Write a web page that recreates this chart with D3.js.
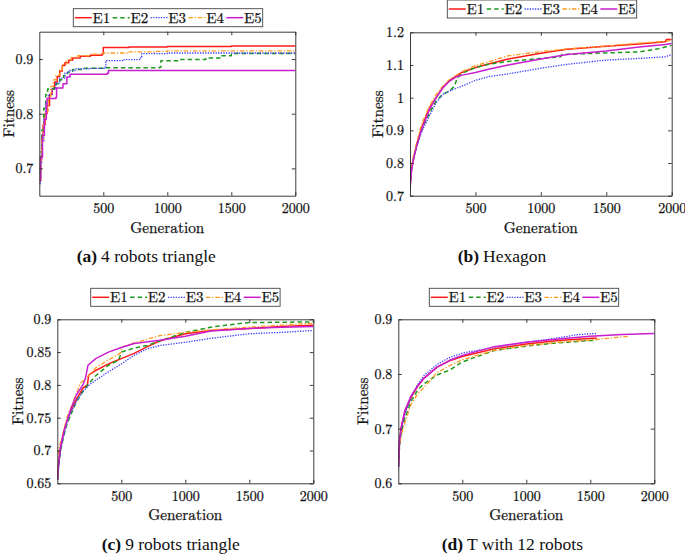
<!DOCTYPE html>
<html><head><meta charset="utf-8">
<script src="https://cdn.jsdelivr.net/npm/d3@7"></script>
<style>
html,body{margin:0;padding:0;background:#fff;}
</style></head>
<body><svg id="chart" width="685" height="557"></svg>
<script>
// ---------- data ----------
const seriesNames = ["E1","E2","E3","E4","E5"];
const xTicks = [500,1000,1500,2000];
const aYTicks = [0.7,0.8,0.9];
const bYTicks = [0.7,0.8,0.9,1,1.1,1.2];
const cYTicks = [0.65,0.7,0.75,0.8,0.85,0.9];
const dYTicks = [0.6,0.7,0.8,0.9];

// (a) 4 robots triangle  [generation, fitness]
const aE1 = [[1,0.678],[10,0.72],[20,0.76],[30,0.78],[45,0.80],[60,0.815],[80,0.835],[100,0.845],[120,0.858],[140,0.868],[160,0.878],[180,0.888],[200,0.893],[230,0.898],[260,0.902],[320,0.905],[400,0.907],[490,0.909],[500,0.921],[700,0.922],[1000,0.923],[1500,0.924],[2000,0.925]];
const aE2 = [[1,0.69],[10,0.73],[20,0.77],[35,0.81],[50,0.835],[65,0.845],[110,0.847],[130,0.855],[160,0.862],[190,0.87],[220,0.876],[260,0.881],[350,0.883],[500,0.884],[940,0.885],[950,0.897],[1100,0.899],[1300,0.902],[1420,0.906],[1500,0.910],[2000,0.911]];
const aE3 = [[1,0.672],[10,0.71],[20,0.75],[35,0.79],[50,0.82],[70,0.835],[100,0.845],[130,0.856],[160,0.865],[200,0.874],[230,0.879],[280,0.882],[400,0.883],[515,0.885],[520,0.897],[650,0.899],[790,0.902],[800,0.910],[1000,0.911],[2000,0.912]];
const aE4 = [[1,0.68],[10,0.715],[20,0.75],[35,0.785],[50,0.805],[70,0.828],[90,0.85],[110,0.862],[130,0.87],[160,0.88],[180,0.89],[210,0.898],[250,0.903],[300,0.906],[400,0.909],[500,0.911],[700,0.913],[900,0.914],[1000,0.915],[2000,0.916]];
const aE5 = [[1,0.68],[10,0.72],[25,0.76],[40,0.79],[55,0.815],[60,0.828],[130,0.83],[135,0.847],[185,0.855],[215,0.867],[240,0.872],[530,0.874],[540,0.879],[2000,0.879]];

// (b) Hexagon
const bE1 = [[1,0.73],[10,0.78],[25,0.81],[50,0.855],[75,0.89],[100,0.92],[150,0.97],[200,1.0],[250,1.03],[300,1.052],[350,1.065],[400,1.078],[500,1.092],[600,1.103],[750,1.118],[1000,1.136],[1200,1.148],[1500,1.157],[1750,1.164],[1950,1.171],[1960,1.178],[2000,1.178]];
const bE2 = [[1,0.74],[10,0.79],[25,0.81],[50,0.85],[75,0.885],[100,0.91],[150,0.955],[200,0.99],[250,1.01],[300,1.02],[340,1.035],[360,1.06],[400,1.075],[500,1.092],[600,1.102],[750,1.111],[1000,1.12],[1150,1.125],[1160,1.132],[1500,1.137],[1750,1.14],[1900,1.15],[2000,1.16]];
const bE3 = [[1,0.73],[10,0.77],[25,0.81],[50,0.85],[75,0.88],[100,0.905],[150,0.945],[200,0.985],[250,1.01],[300,1.02],[350,1.028],[400,1.036],[500,1.053],[600,1.064],[750,1.073],[1000,1.09],[1200,1.102],[1500,1.115],[1750,1.12],[1950,1.125],[2000,1.132]];
const bE4 = [[1,0.73],[10,0.79],[25,0.82],[50,0.86],[75,0.9],[100,0.93],[150,0.975],[200,1.01],[250,1.035],[300,1.055],[350,1.068],[400,1.08],[500,1.098],[600,1.11],[750,1.128],[1000,1.141],[1200,1.149],[1500,1.158],[1750,1.167],[1950,1.172],[2000,1.176]];
const bE5 = [[1,0.725],[10,0.77],[25,0.81],[50,0.85],[75,0.885],[100,0.915],[150,0.965],[200,1.0],[250,1.03],[300,1.05],[350,1.063],[400,1.069],[500,1.077],[600,1.087],[750,1.1],[1000,1.118],[1200,1.132],[1500,1.143],[1750,1.155],[1950,1.163],[2000,1.166]];

// (c) 9 robots triangle
const cE1 = [[1,0.655],[10,0.68],[25,0.705],[50,0.728],[75,0.745],[100,0.758],[150,0.778],[200,0.795],[235,0.80],[245,0.815],[300,0.822],[400,0.832],[450,0.836],[500,0.84],[600,0.848],[700,0.858],[800,0.867],[1000,0.878],[1200,0.883],[1500,0.886],[1750,0.889],[2000,0.891]];
const cE2 = [[1,0.655],[10,0.675],[25,0.70],[50,0.722],[75,0.74],[100,0.752],[150,0.775],[200,0.79],[250,0.803],[300,0.814],[400,0.83],[480,0.838],[500,0.85],[600,0.856],[700,0.86],[800,0.867],[1000,0.88],[1200,0.888],[1400,0.893],[1500,0.895],[2000,0.896]];
const cE3 = [[1,0.655],[10,0.675],[25,0.70],[50,0.723],[75,0.742],[100,0.755],[150,0.775],[200,0.79],[250,0.80],[300,0.807],[400,0.82],[500,0.832],[600,0.845],[700,0.855],[800,0.86],[1000,0.865],[1200,0.871],[1500,0.878],[1750,0.88],[2000,0.883]];
const cE4 = [[1,0.665],[10,0.70],[25,0.713],[50,0.73],[75,0.75],[100,0.763],[150,0.787],[180,0.803],[200,0.806],[250,0.815],[300,0.826],[400,0.838],[490,0.848],[510,0.858],[600,0.864],[800,0.875],[1000,0.88],[1200,0.884],[1500,0.888],[1750,0.891],[2000,0.894]];
const cE5 = [[1,0.655],[10,0.68],[25,0.705],[50,0.728],[75,0.745],[100,0.76],[150,0.785],[200,0.80],[220,0.81],[240,0.83],[300,0.84],[400,0.85],[500,0.857],[600,0.863],[800,0.868],[1000,0.874],[1200,0.882],[1500,0.886],[1750,0.888],[2000,0.889]];

// (d) T with 12 robots
const dE1 = [[1,0.63],[10,0.68],[25,0.705],[50,0.73],[100,0.757],[150,0.777],[200,0.792],[300,0.812],[400,0.824],[500,0.832],[750,0.846],[1000,0.855],[1250,0.861],[1550,0.866]];
const dE2 = [[1,0.63],[10,0.67],[25,0.695],[50,0.718],[100,0.75],[150,0.77],[200,0.782],[300,0.798],[400,0.807],[500,0.822],[750,0.843],[1000,0.851],[1250,0.857],[1550,0.862]];
const dE3 = [[1,0.625],[10,0.67],[25,0.70],[50,0.725],[100,0.758],[150,0.78],[200,0.797],[300,0.817],[400,0.83],[500,0.838],[750,0.849],[1000,0.858],[1250,0.866],[1400,0.872],[1550,0.874]];
const dE4 = [[1,0.64],[10,0.67],[25,0.69],[50,0.71],[100,0.745],[150,0.763],[200,0.775],[300,0.802],[400,0.815],[500,0.826],[750,0.843],[1000,0.852],[1250,0.858],[1500,0.862],[1800,0.869]];
const dE5 = [[1,0.63],[10,0.68],[25,0.705],[50,0.732],[100,0.76],[150,0.778],[200,0.792],[300,0.812],[400,0.825],[500,0.834],[750,0.85],[1000,0.858],[1250,0.864],[1500,0.869],[1750,0.872],[2000,0.874]];

// ---------- styles ----------
const FONT = "'Latin Modern Roman','Liberation Serif',serif";
const CAPFONT = "'Liberation Serif','Times New Roman',serif";
const lineStyles = [
  {color:"#ff1a1a", dash:null, w:1.5},
  {color:"#1f9a1f", dash:"4.5,3", w:1.5},
  {color:"#3b3bff", dash:"1.3,1.3", w:1.3},
  {color:"#ff9a1f", dash:"4.5,1.8,1.3,1.8", w:1.3},
  {color:"#c81ecf", dash:null, w:1.5}
];

const panels = [
  {key:"a", L:39.3, R:295.3, T:31.7, B:195.7, yDom:[0.65,0.95], yTicks:aYTicks, data:[aE1,aE2,aE3,aE4,aE5],
   leg:{x:73.3,y:8.7}, ylabX:13.5, cap:{x:76.7,y:261.5,b:"(a)",t:"4 robots triangle"}},
  {key:"b", L:410, R:671.7, T:32.3, B:195.7, yDom:[0.7,1.2], yTicks:bYTicks, data:[bE1,bE2,bE3,bE4,bE5],
   leg:{x:447.3,y:0}, ylabX:383.3, cap:{x:457.7,y:261.5,b:"(b)",t:"Hexagon"}},
  {key:"c", L:57.3, R:313.3, T:319.3, B:483.3, yDom:[0.65,0.9], yTicks:cYTicks, data:[cE1,cE2,cE3,cE4,cE5],
   leg:{x:90.7,y:288.3}, ylabX:23.3, cap:{x:101.7,y:550,b:"(c)",t:"9 robots triangle"}},
  {key:"d", L:398.3, R:654.3, T:319.3, B:483.3, yDom:[0.6,0.9], yTicks:dYTicks, data:[dE1,dE2,dE3,dE4,dE5],
   leg:{x:429.3,y:288.3}, ylabX:368.3, cap:{x:441.7,y:550,b:"(d)",t:"T with 12 robots"}}
];

const svg = d3.select("#chart");
const axisColor = "#262626";

panels.forEach(p => {
  const x = d3.scaleLinear().domain([0,2000]).range([p.L,p.R]);
  const y = d3.scaleLinear().domain(p.yDom).range([p.B,p.T]);
  const g = svg.append("g").attr("font-family",FONT);

  g.append("clipPath").attr("id","clip"+p.key)
    .append("rect").attr("x",p.L).attr("y",p.T).attr("width",p.R-p.L).attr("height",p.B-p.T);

  const line = d3.line().x(d=>x(d[0])).y(d=>y(d[1]))
     .curve(p.key==="a" ? d3.curveStepAfter : d3.curveLinear);
  const lg = g.append("g").attr("clip-path","url(#clip"+p.key+")");
  p.data.forEach((s,i) => {
    const st = lineStyles[i];
    lg.append("path").datum(s).attr("d",line)
      .attr("fill","none").attr("stroke",st.color).attr("stroke-width",st.w)
      .attr("stroke-dasharray",st.dash).attr("stroke-linejoin","round");
  });

  // axes
  const fs = 14;
  const xb = g.append("g").attr("transform",`translate(0,${p.B})`)
    .call(d3.axisBottom(x).tickValues(xTicks).tickFormat(d3.format("d")).tickSizeInner(-3.5).tickSizeOuter(0).tickPadding(7.5));
  const yl = g.append("g").attr("transform",`translate(${p.L},0)`)
    .call(d3.axisLeft(y).tickValues(p.yTicks).tickSizeInner(-3.5).tickSizeOuter(0).tickPadding(6).tickFormat(d=>String(d)));
  const xt = g.append("g").attr("transform",`translate(0,${p.T})`)
    .call(d3.axisTop(x).tickValues(xTicks).tickSizeInner(-3.5).tickSizeOuter(0).tickFormat(""));
  const yr = g.append("g").attr("transform",`translate(${p.R},0)`)
    .call(d3.axisRight(y).tickValues(p.yTicks).tickSizeInner(-3.5).tickSizeOuter(0).tickFormat(""));
  [xb,yl,xt,yr].forEach(a => {
    a.attr("font-family",FONT).attr("font-size",fs);
    a.selectAll("path.domain").attr("stroke",axisColor).attr("stroke-width",0.9);
    a.selectAll(".tick line").attr("stroke",axisColor).attr("stroke-width",0.9);
    a.selectAll("text").attr("fill","#111").attr("stroke","#111").attr("stroke-width",0.25);
  });

  // axis labels
  g.append("text").attr("x",(p.L+p.R)/2).attr("y",p.B+37).attr("text-anchor","middle")
    .attr("font-size",15.3).attr("fill","#111").attr("stroke","#111").attr("stroke-width",0.25).text("Generation");
  g.append("text").attr("transform",`translate(${p.ylabX},${(p.T+p.B)/2}) rotate(-90)`)
    .attr("text-anchor","middle").attr("font-size",15.3).attr("fill","#111").attr("stroke","#111").attr("stroke-width",0.25).text("Fitness");

  // legend
  const lw = 189.4, lh = 18, step = lw/5;
  const leg = g.append("g").attr("transform",`translate(${p.leg.x},${p.leg.y})`);
  leg.append("rect").attr("width",lw).attr("height",lh).attr("fill","#fff")
    .attr("stroke","#444").attr("stroke-width",0.9);
  seriesNames.forEach((n,i) => {
    const st = lineStyles[i];
    const x0 = i*step;
    leg.append("line").attr("x1",x0+1.5).attr("x2",x0+18.5).attr("y1",lh/2).attr("y2",lh/2)
      .attr("stroke",st.color).attr("stroke-width",st.w).attr("stroke-dasharray",st.dash);
    leg.append("text").attr("x",x0+19.3).attr("y",lh/2+5).attr("font-size",15).attr("fill","#111")
      .attr("stroke","#111").attr("stroke-width",0.25).text(n);
  });

  // caption
  const cap = g.append("text").attr("x",p.cap.x).attr("y",p.cap.y).attr("font-family",CAPFONT)
    .attr("font-size",17.5).attr("fill","#111");
  cap.append("tspan").attr("font-weight","bold").text(p.cap.b);
  cap.append("tspan").attr("dx",4).text(p.cap.t);
});
</script></body></html>
